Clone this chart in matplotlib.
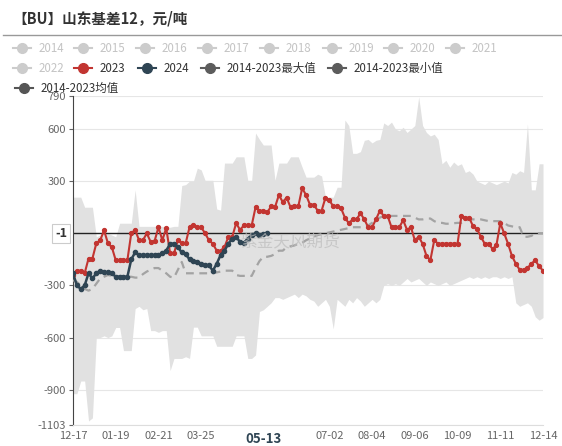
import numpy as np
import matplotlib
matplotlib.use("Agg")
import matplotlib.pyplot as plt
from matplotlib.lines import Line2D
from matplotlib.transforms import blended_transform_factory

plt.rcParams['font.family'] = ['Noto Sans CJK SC', 'DejaVu Sans']

# x axis: day offset from 12-17, sampled every 3 days
days = list(range(0, 364, 3))

y_2023 = [-242, -215, -215, -230, -145, -145, -58, -40, 17, -58, -80, -155, -155, -155, -155,
          0, 20, -40, -40, 0, -50, -45, 35, -40, 30, -115, -115, -40, -58, -58,
          35, 50, 35, 35, 0, -40, -60, -100, -100, -80, -20, -20, 58, 20, 45,
          45, 45, 150, 130, 130, 120, 155, 150, 220, 180, 205, 150, 155, 155, 260,
          220, 165, 165, 130, 130, 205, 190, 155, 155, 145, 90, 58, 80, 80, 115,
          80, 35, 35, 80, 130, 100, 100, 35, 35, 35, 75, 20, 35, -40, -20,
          -60, -130, -155, -40, -60, -60, -60, -60, -60, -60, 100, 90, 90, 40, 25,
          -20, -60, -60, -90, -70, 58, 0, -60, -130, -175, -210, -210, -200, -175, -155,
          -190, -215]

y_2024 = [-230, -300, -320, -300, -230, -260, -230, -215, -225, -225, -230, -250, -250, -250, -250,
          -150, -110, -125, -125, -125, -125, -125, -125, -115, -100, -60, -60, -80, -110, -120,
          -150, -160, -165, -175, -180, -185, -215, -175, -125, -100, -60, -30, -20, -50, -55,
          -30, -10, 0, -10, -5, -1]

y_mean = [-270, -280, -300, -320, -330, -320, -290, -260, -250, -240, -245, -250, -250, -250, -250,
          -250, -255, -255, -235, -220, -210, -200, -200, -215, -230, -250, -255, -210, -165, -230,
          -230, -230, -230, -230, -230, -230, -230, -225, -220, -215, -215, -215, -240, -245, -245,
          -245, -245, -200, -160, -135, -135, -130, -120, -100, -100, -80, -75, -70, -60, -55,
          -40, -30, -20, -10, -5, 0, 5, 10, 15, 20, 25, 30, 35, 35, 35,
          35, 45, 60, 80, 90, 100, 100, 100, 100, 100, 100, 100, 100, 90, 80,
          80, 85, 85, 70, 60, 60, 55, 55, 58, 60, 60, 70, 80, 80, 80,
          80, 75, 70, 70, 70, 70, 60, 45, 40, 35, 35, -20, -20, -15, 0,
          0, 0]

y_max = [208, 208, 208, 150, 150, 150, -20, -10, 20, 0, -10, -20, 58, 58, 58,
         58, 250, 40, 40, 40, 40, 40, 40, 40, 35, 35, 40, 40, 275, 280,
         300, 300, 375, 365, 305, 305, 305, 140, 133, 404, 404, 404, 440, 440, 440,
         305, 305, 577, 540, 508, 508, 508, 305, 404, 404, 404, 440, 440, 440, 380,
         323, 323, 323, 340, 330, 208, 208, 208, 265, 265, 652, 620, 460, 460, 470,
         535, 540, 520, 535, 540, 635, 620, 640, 600, 590, 610, 580, 600, 620, 785,
         620, 580, 560, 570, 540, 400, 420, 380, 410, 390, 400, 350, 360, 340, 300,
         290, 280, 300, 290, 280, 290, 300, 290, 350, 340, 360, 350, 630, 250, 250,
         400, 400]

y_min = [-923, -923, -850, -850, -1080, -1062, -600, -600, -590, -600, -590, -542, -542, -675, -675,
         -675, -433, -420, -440, -433, -560, -560, -570, -560, -560, -790, -720, -720, -720, -710,
         -720, -540, -540, -590, -590, -590, -590, -650, -650, -650, -650, -650, -590, -590, -590,
         -720, -720, -700, -450, -440, -420, -400, -370, -370, -380, -370, -360, -350, -370, -350,
         -360, -380, -390, -420, -400, -380, -420, -550, -380, -400, -420, -380, -400, -370, -390,
         -420, -400, -380, -400, -380, -300, -290, -300, -290, -300, -280, -260, -280, -270, -260,
         -280, -300, -280, -290, -300, -290, -280, -300, -290, -280, -270, -260, -250, -260, -250,
         -260, -250, -260, -250, -250, -260, -250, -260, -250, -400, -420, -410, -400, -420, -480,
         -500, -485]

x_tick_days = [0, 33, 66, 99, 198, 231, 264, 297, 330, 363]
x_tick_labels = ['12-17', '01-19', '02-21', '03-25', '07-02', '08-04', '09-06', '10-09', '11-11', '12-14']
current_day = 147
current_label = '05-13'
current_value = -1

y_ticks = [790, 600, 300, -300, -600, -900, -1103]

legend_row1 = ['2014', '2015', '2016', '2017', '2018', '2019', '2020', '2021']
legend_row2 = ['2022', '2023', '2024', '2014-2023最大值', '2014-2023最小值']
legend_row3 = ['2014-2023均值']

RED = '#c23531'
NAVY = '#2f4554'
W, H = 562, 446

fig = plt.figure(figsize=(W / 100, H / 100), dpi=100)
ax = fig.add_axes([73 / W, 21 / H, 470 / W, 329 / H])

ax.fill_between(days, y_min, y_max, color='#e1e1e1', lw=0, zorder=1)
ax.plot(days, y_mean, color='#a3a3a3', lw=1.6, ls=(0, (3.5, 2.5)), zorder=3)
ax.axhline(current_value, color='#222222', lw=1.0, zorder=2)
ax.plot(days, y_2023, color=RED, lw=1.5, marker='o', ms=2.8, zorder=4)
ax.plot(days[:len(y_2024)], y_2024, color=NAVY, lw=1.8, marker='o', ms=3.0, zorder=5)

ax.set_xlim(0, 363)
ax.set_ylim(-1103, 790)
ax.set_yticks(y_ticks)
ax.set_yticklabels([str(v) for v in y_ticks])
ax.set_xticks(x_tick_days)
ax.set_xticklabels(x_tick_labels)
ax.tick_params(axis='y', length=3, pad=2, labelsize=8, colors='#666666')
ax.tick_params(axis='x', length=0, pad=4, labelsize=8, colors='#666666')
ax.grid(axis='y', color='#e6e6e6', lw=0.8, zorder=0)
ax.set_axisbelow(True)
for s in ['top', 'right']:
    ax.spines[s].set_visible(False)
ax.spines['left'].set_color('#444444')
ax.spines['bottom'].set_color('#dddddd')

# highlighted current date and value labels
ax.text(current_day, -1103, current_label, ha='center', va='top', fontsize=9.5,
        fontweight='bold', color=NAVY,
        transform=ax.transData, clip_on=False).set_y(-1103 - 42)
trans = blended_transform_factory(ax.transAxes, ax.transData)
ax.text(-0.012, current_value, '-1', ha='right', va='center', fontsize=9, fontweight='bold',
        color='#333333', transform=trans,
        bbox=dict(boxstyle='square,pad=0.25', fc='white', ec='#cccccc', lw=0.8))

# watermark
fig.text(290 / W, 1 - 242 / H, '紫金天风期货', ha='center', va='center', fontsize=12,
         color='#bdbdbd', alpha=0.7, zorder=10)

# title
fig.text(12 / W, 1 - 18 / H, '【BU】山东基差12，元/吨', ha='left', va='center', fontsize=10.5,
         fontweight='bold', color='#333333')
fig.add_artist(Line2D([3 / W, 1], [1 - 35 / H, 1 - 35 / H], color='#999999', lw=1))


def legend_item(cx, cy, label, color, text_color):
    y = 1 - cy / H
    fig.add_artist(Line2D([(cx - 9) / W, (cx + 9) / W], [y, y], color=color, lw=1.5))
    fig.add_artist(Line2D([cx / W], [y], marker='o', ms=7, color=color))
    fig.text((cx + 17) / W, y, label, ha='left', va='center', fontsize=8.3, color=text_color)


row1_x = [22, 83, 145, 207, 269, 332, 393, 455]
for cx, lab in zip(row1_x, legend_row1):
    legend_item(cx, 48, lab, '#cccccc', '#c4c4c4')

row2_x = [22, 83, 147, 210, 337]
row2_colors = ['#cccccc', RED, NAVY, '#5c5c5c', '#5c5c5c']
row2_text = ['#c4c4c4', '#333333', '#333333', '#333333', '#333333']
for cx, lab, c, tc in zip(row2_x, legend_row2, row2_colors, row2_text):
    legend_item(cx, 68, lab, c, tc)

legend_item(24, 88, legend_row3[0], '#555555', '#333333')

fig.savefig('out.png', dpi=100)
